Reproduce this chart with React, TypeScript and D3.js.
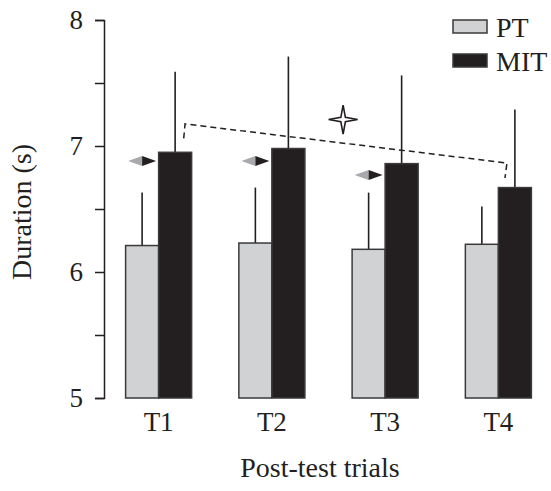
import * as d3 from "d3";
import { useRef, useEffect } from "react";

const trials = ["T1", "T2", "T3", "T4"];
const groups = ["PT", "MIT"];
const ptMeans = [6.21, 6.23, 6.18, 6.22];
const ptSd = [0.42, 0.44, 0.45, 0.3];
const mitMeans = [6.95, 6.98, 6.86, 6.67];
const mitSd = [0.64, 0.73, 0.7, 0.62];
const yTicks = [5, 5.5, 6, 6.5, 7, 7.5, 8];
const yTickLabels = ["5", "", "6", "", "7", "", "8"];
// little grey/black arrow markers over PT bars (T1..T3)
const arrowTrials = ["T1", "T2", "T3"];
const arrowLevels = [6.88, 6.88, 6.77];
// dashed bracket T1 -> T4: drop, top, top, drop
const bracketLevels = [7.06, 7.175, 6.865, 6.746];
const starLevel = 7.21;

const fillColor: Record<string, string> = { PT: "#d1d2d4", MIT: "#231f20" };
const font = "'Liberation Serif', 'Times New Roman', serif";

export default function App() {
  const width = 551;
  const height = 491;
  const ref = useRef(null);

  useEffect((): void => {
    if (!ref.current) return;
    const svg = d3.select(ref.current);
    svg.selectAll("*").remove();

    const x = d3
      .scaleBand()
      .domain(trials)
      .range([102, 555])
      .paddingInner(0.417)
      .paddingOuter(0.2085);
    const xSub = d3.scaleBand().domain(groups).range([0, x.bandwidth()]);
    const y = d3.scaleLinear().domain([5, 8]).range([398, 20]);

    const rows = trials.flatMap((t, i) => [
      { trial: t, group: "PT", mean: ptMeans[i], sd: ptSd[i] },
      { trial: t, group: "MIT", mean: mitMeans[i], sd: mitSd[i] },
    ]);

    // error bars (upper only)
    svg
      .append("g")
      .selectAll()
      .data(rows)
      .join("line")
      .attr("x1", (d) => x(d.trial)! + xSub(d.group)! + xSub.bandwidth() / 2)
      .attr("x2", (d) => x(d.trial)! + xSub(d.group)! + xSub.bandwidth() / 2)
      .attr("y1", (d) => y(d.mean))
      .attr("y2", (d) => y(d.mean + d.sd))
      .attr("stroke", "#231f20")
      .attr("stroke-width", 1.6);

    // bars
    svg
      .append("g")
      .selectAll()
      .data(rows)
      .join("rect")
      .attr("x", (d) => x(d.trial)! + xSub(d.group)!)
      .attr("y", (d) => y(d.mean))
      .attr("width", xSub.bandwidth())
      .attr("height", (d) => y(5) - y(d.mean))
      .attr("fill", (d) => fillColor[d.group])
      .attr("stroke", "#3a3a3a")
      .attr("stroke-width", 1.5);

    // y axis
    const axis = d3
      .axisLeft(y)
      .tickValues(yTicks)
      .tickSize(9)
      .tickPadding(12)
      .tickFormat((_, i) => yTickLabels[i]);
    const gAxis = svg.append("g").attr("transform", "translate(104,0)").call(axis);
    gAxis.select(".domain").attr("stroke", "#231f20").attr("stroke-width", 1.5);
    gAxis.selectAll(".tick line").attr("stroke", "#231f20").attr("stroke-width", 1.5);
    gAxis
      .selectAll(".tick text")
      .attr("font-family", font)
      .attr("font-size", 27)
      .attr("fill", "#231f20");

    // x category labels
    svg
      .append("g")
      .selectAll()
      .data(trials)
      .join("text")
      .attr("x", (d) => x(d)! + x.bandwidth() / 2)
      .attr("y", 431)
      .attr("text-anchor", "middle")
      .attr("font-family", font)
      .attr("font-size", 27)
      .attr("fill", "#231f20")
      .text((d) => d);

    // axis titles
    svg
      .append("text")
      .attr("x", 320)
      .attr("y", 477)
      .attr("text-anchor", "middle")
      .attr("font-family", font)
      .attr("font-size", 28)
      .attr("fill", "#231f20")
      .text("Post-test trials");
    svg
      .append("text")
      .attr("transform", "translate(31,212) rotate(-90)")
      .attr("text-anchor", "middle")
      .attr("font-family", font)
      .attr("font-size", 28)
      .attr("fill", "#231f20")
      .text("Duration (s)");

    // arrow markers
    const aw = 14;
    const ah = 5;
    const arrows = svg
      .append("g")
      .selectAll()
      .data(arrowTrials.map((t, i) => ({ trial: t, level: arrowLevels[i] })))
      .join("g")
      .attr(
        "transform",
        (d) =>
          `translate(${x(d.trial)! + xSub("PT")! + xSub.bandwidth() / 2},${y(d.level)})`,
      );
    arrows
      .append("path")
      .attr("d", `M${-aw},0L0,${-ah}L0,${ah}Z`)
      .attr("fill", "#a7a9ac");
    arrows
      .append("path")
      .attr("d", `M0,${-ah}L${aw},0L0,${ah}Z`)
      .attr("fill", "#231f20");

    // dashed bracket
    const x0 = x("T1")! + xSub("MIT")!;
    const x3 = x("T4")! + xSub("MIT")!;
    const bw = xSub.bandwidth();
    const bracketX = [x0 + bw * 0.76, x0 + bw * 0.8, x3 + bw * 0.26, x3 + bw * 0.2];
    const line = d3
      .line<number>()
      .x((_, i) => bracketX[i])
      .y((d) => y(d));
    svg
      .append("path")
      .attr("d", line(bracketLevels))
      .attr("fill", "none")
      .attr("stroke", "#231f20")
      .attr("stroke-width", 1.5)
      .attr("stroke-dasharray", "6,4");

    // star
    const starPts: [number, number][] = d3
      .range(8)
      .map((i) => [(i * Math.PI) / 4, i % 2 === 0 ? 14.5 : 3.2]);
    const star = d3.lineRadial().curve(d3.curveLinearClosed);
    svg
      .append("path")
      .attr("transform", `translate(${x("T3")! - 9},${y(starLevel)})`)
      .attr("d", star(starPts))
      .attr("fill", "#fff")
      .attr("stroke", "#231f20")
      .attr("stroke-width", 1.6);

    // legend
    const legend = svg
      .append("g")
      .selectAll()
      .data(groups)
      .join("g")
      .attr("transform", (_, i) => `translate(453,${20 + i * 34})`);
    legend
      .append("rect")
      .attr("width", 34)
      .attr("height", 13)
      .attr("fill", (d) => fillColor[d])
      .attr("stroke", "#3a3a3a")
      .attr("stroke-width", 1.5);
    legend
      .append("text")
      .attr("x", 43)
      .attr("y", 17)
      .attr("font-family", font)
      .attr("font-size", 28)
      .attr("fill", "#231f20")
      .text((d) => d);
  }, []);

  return (
    <svg
      ref={ref}
      width={width}
      height={height}
      style={{ position: "absolute", left: 0, top: 0, background: "#fff" }}
    />
  );
}
